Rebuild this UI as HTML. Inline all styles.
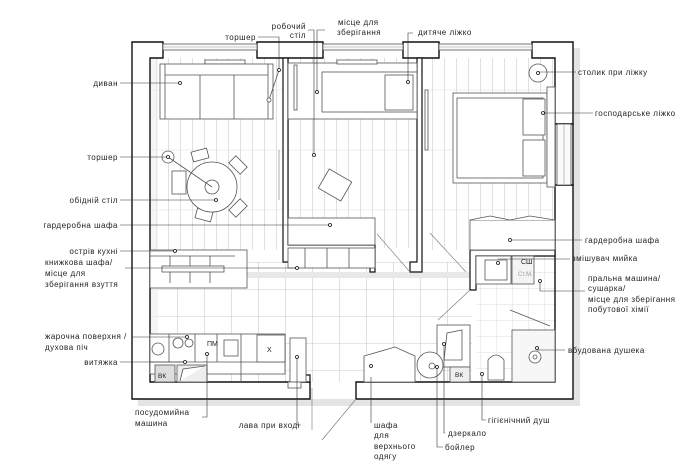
<!DOCTYPE html>
<html><head><meta charset="utf-8"><style>
html,body{margin:0;padding:0;background:#fff;}
svg{display:block;}
text{font-family:"Liberation Sans",sans-serif;font-size:8px;letter-spacing:0.5px;fill:#222;}
.e{text-anchor:end;}
</style></head><body>
<svg width="690" height="466" viewBox="0 0 690 466" xmlns="http://www.w3.org/2000/svg">
<defs>
<pattern id="planks" width="12" height="60" patternUnits="userSpaceOnUse">
<line x1="0.5" y1="0" x2="0.5" y2="60" stroke="#ccc" stroke-width="0.6"/>
<line x1="0" y1="30" x2="12" y2="30" stroke="#ddd" stroke-width="0.5"/>
</pattern>
<pattern id="tiles" width="27" height="27" patternUnits="userSpaceOnUse" x="150" y="262">
<path d="M0 0.5H27M0.5 0V27" stroke="#ccc" stroke-width="0.6" fill="none"/>
</pattern>
<pattern id="btiles" width="16" height="16" patternUnits="userSpaceOnUse">
<path d="M0 0.5H16M0.5 0V16" stroke="#ddd" stroke-width="0.5" fill="none"/>
</pattern>
</defs>
<rect x="138" y="48" width="442" height="358" fill="#e4e4e4"/>
<rect x="132" y="42" width="441" height="357" fill="#fff"/>
<rect x="150" y="58" width="133" height="192" fill="url(#planks)"/>
<rect x="288" y="58" width="129" height="190" fill="url(#planks)"/>
<rect x="422" y="58" width="133" height="192" fill="url(#planks)"/>
<rect x="150" y="262" width="322" height="120" fill="url(#tiles)"/>
<rect x="476" y="256" width="79" height="126" fill="url(#btiles)"/>
<rect x="150" y="58" width="8" height="324" fill="#eee" opacity="0.6"/>
<rect x="150" y="272" width="322" height="6" fill="#e8e8e8"/>
<g fill="#fff" stroke="#111" stroke-width="1.4">
<path d="M132 42H163V58H150V382H310V399H132Z"/>
<path d="M257 42H323V58H257Z"/>
<path d="M403 42H439V58H403Z"/>
<path d="M532 42H573V124H555V58H532Z"/>
<path d="M555 185H573V399H356V382H555Z"/>
<path d="M555 124H573V185H555Z" fill="#fff"/>
</g>
<g stroke="#555" stroke-width="0.8" fill="#fafafa">
<rect x="163" y="44" width="94" height="6"/>
<rect x="323" y="44" width="80" height="6"/>
<rect x="439" y="44" width="93" height="6"/>
<rect x="557" y="124" width="14" height="61"/>
</g>
<g stroke="#999" stroke-width="0.6">
<line x1="163" y1="47" x2="257" y2="47"/><line x1="323" y1="47" x2="403" y2="47"/><line x1="439" y1="47" x2="532" y2="47"/><line x1="564" y1="124" x2="564" y2="185"/>
</g>
<g fill="#fff" stroke="#111" stroke-width="1.2">
<path d="M283 58H288V245H375V272H370V262H283Z"/>
<path d="M417 58H422V272H410V262H417Z"/>
<path d="M470 250H555V256H476V290H470Z"/>
<path d="M303 375H310V382H303Z"/>
</g>
<g stroke="#777" stroke-width="0.6" fill="none">
<line x1="377" y1="234" x2="410" y2="272"/>
<line x1="430" y1="233" x2="466" y2="272"/>
<line x1="470" y1="290" x2="438" y2="320"/>
<line x1="356" y1="399" x2="322" y2="440"/>
<line x1="312" y1="388" x2="312" y2="430"/>
</g>
<g fill="#fff" stroke="#555" stroke-width="0.8">
<rect x="205" y="60" width="40" height="4"/>
<rect x="160" y="64" width="113" height="55"/>
<line x1="165" y1="75" x2="268" y2="75"/>
<line x1="200" y1="75" x2="200" y2="119"/><line x1="234" y1="75" x2="234" y2="119"/>
<line x1="165" y1="64" x2="165" y2="119"/><line x1="268" y1="64" x2="268" y2="119"/>
<rect x="172" y="171" width="14" height="23"/>
<rect x="192" y="150" width="16" height="10" transform="rotate(-15 200 155)"/>
<rect x="196" y="210" width="16" height="10" transform="rotate(15 204 215)"/>
<rect x="230" y="160" width="16" height="10" transform="rotate(45 238 165)"/>
<rect x="230" y="203" width="16" height="10" transform="rotate(-45 238 208)"/>
<circle cx="212" cy="187" r="25"/>
<circle cx="212" cy="187" r="7"/>
<circle cx="168" cy="157" r="6"/>
<line x1="168" y1="157" x2="212" y2="187"/>
<line x1="279" y1="70" x2="269" y2="100"/>
<circle cx="269" cy="100" r="2"/>
<line x1="279" y1="150" x2="279" y2="200" stroke="#999"/>
</g>
<g fill="#fff" stroke="#555" stroke-width="0.8">
<rect x="150" y="250" width="97" height="38"/>
<line x1="170" y1="256" x2="170" y2="283"/><line x1="190" y1="256" x2="190" y2="283"/><line x1="210" y1="256" x2="210" y2="283"/>
<line x1="150" y1="256" x2="235" y2="256"/>
<rect x="162" y="266" width="62" height="6"/>
</g>
<g fill="#fff" stroke="#555" stroke-width="0.8">
<rect x="288" y="63" width="129" height="56"/>
<rect x="322" y="72" width="95" height="40"/>
<rect x="385" y="75" width="28" height="35"/>
<rect x="337" y="60" width="40" height="4"/>
<rect x="294" y="65" width="3" height="45"/>
<rect x="322" y="174" width="26" height="22" transform="rotate(30 335 185)"/>
<rect x="288" y="218" width="87" height="27"/>
<rect x="288" y="248" width="87" height="20"/>
<line x1="305" y1="248" x2="305" y2="268"/><line x1="327" y1="248" x2="327" y2="268"/><line x1="349" y1="248" x2="349" y2="268"/>
</g>
<g fill="#fff" stroke="#555" stroke-width="0.8">
<circle cx="538" cy="73" r="9"/>
<rect x="453" y="93" width="94" height="90"/>
<rect x="457" y="98" width="86" height="80"/>
<rect x="523" y="99" width="22" height="36"/><rect x="523" y="140" width="22" height="36"/>
<rect x="547" y="87" width="8" height="100"/>
<rect x="470" y="220" width="85" height="30"/>
<path d="M470 220L490 216L510 220L530 216L555 220"/>
<rect x="425" y="90" width="3" height="60"/>
</g>
<g fill="#fff" stroke="#555" stroke-width="0.8">
<rect x="476" y="256" width="35" height="28"/>
<rect x="485" y="260" width="22" height="20"/>
<rect x="512" y="256" width="22" height="28" fill="#f4f4f4"/>
<rect x="512" y="330" width="43" height="52" fill="#f7f7f7"/>
<circle cx="535" cy="357" r="6"/><circle cx="535" cy="357" r="2"/>
<path d="M488 380V360Q496 350 504 360V380Z"/>
<line x1="510" y1="310" x2="550" y2="326"/>
<rect x="437" y="325" width="33" height="42"/>
<path d="M444 360L447 333L462 330V360Z"/>
<rect x="450" y="367" width="20" height="15" fill="#eee"/>
<circle cx="430" cy="365" r="13"/>
<circle cx="432" cy="366" r="3"/>
<path d="M364 382V356L395 347L415 356V382Z"/>
</g>
<g fill="#fff" stroke="#555" stroke-width="0.8">
<rect x="150" y="334" width="135" height="40"/>
<line x1="169" y1="334" x2="169" y2="362"/><line x1="195" y1="334" x2="195" y2="362"/>
<line x1="217" y1="334" x2="217" y2="362"/><line x1="241" y1="334" x2="241" y2="382"/>
<line x1="150" y1="362" x2="285" y2="362"/>
<circle cx="158" cy="349" r="6"/><circle cx="178" cy="343" r="5"/><circle cx="189" cy="343" r="4"/>
<rect x="224" y="340" width="14" height="16"/>
<rect x="257" y="335" width="28" height="27"/>
<rect x="290" y="338" width="16" height="44"/>
<rect x="155" y="365" width="20" height="17" fill="#ddd"/>
<rect x="177" y="365" width="30" height="17" fill="#eee"/>
<path d="M180 381L183 369L205 366"/>
<rect x="288" y="382" width="13" height="6"/>
</g>
<g>
<text x="207" y="346" style="font-size:7px;letter-spacing:0">ПМ</text>
<text x="267" y="352" style="font-size:7px;letter-spacing:0">Х</text>
<text x="158" y="378" style="font-size:6.5px;letter-spacing:0">ВК</text>
<text x="455" y="377" style="font-size:6.5px;letter-spacing:0">ВК</text>
<text x="521" y="264" style="font-size:7px;letter-spacing:0">СШ</text>
<text x="518" y="276" style="font-size:6px;fill:#999;letter-spacing:0">Ст.М.</text>
</g>
<g stroke="#333" stroke-width="0.6" fill="none">
<path d="M120 83H180"/><path d="M120 157H168"/><path d="M120 200H217"/><path d="M120 225H330"/>
<path d="M120 251H175"/><path d="M125 268H297"/><path d="M133 337H187"/><path d="M120 362H185"/>
<path d="M258 37H279V70"/><path d="M308 30H314V155"/><path d="M325 30H317V92"/>
<path d="M413 33H408V82"/><path d="M576 72H538"/><path d="M593 113H543"/>
<path d="M582 240H510"/><path d="M570 259H498"/><path d="M585 291H540V280"/><path d="M565 350H537"/>
<path d="M202 417H207V354"/><path d="M301 425H297V357"/><path d="M371 423H371V377"/>
<path d="M445 433H444V344"/><path d="M443 447H437V367"/><path d="M486 420H482V374"/>
</g>
<g fill="#fff" stroke="#111" stroke-width="0.8">
<circle cx="180" cy="83" r="1.5"/><circle cx="168" cy="157" r="1.5"/><circle cx="216" cy="200" r="1.5"/>
<circle cx="330" cy="225" r="1.5"/><circle cx="175" cy="251" r="1.5"/><circle cx="297" cy="268" r="1.5"/>
<circle cx="187" cy="337" r="1.5"/><circle cx="185" cy="362" r="1.5"/><circle cx="279" cy="70" r="1.5"/>
<circle cx="314" cy="155" r="1.5"/><circle cx="317" cy="92" r="1.5"/><circle cx="408" cy="82" r="1.5"/>
<circle cx="538" cy="73" r="1.5"/><circle cx="543" cy="113" r="1.5"/><circle cx="510" cy="240" r="1.5"/>
<circle cx="498" cy="263" r="1.5"/><circle cx="540" cy="281" r="1.5"/><circle cx="537" cy="348" r="1.5"/>
<circle cx="207" cy="354" r="1.5"/><circle cx="297" cy="357" r="1.5"/><circle cx="371" cy="366" r="1.5"/>
<circle cx="444" cy="344" r="1.5"/><circle cx="437" cy="367" r="1.5"/><circle cx="482" cy="374" r="1.5"/>
</g>
<text class="e" x="256" y="40">торшер</text>
<text class="e" x="306" y="29">робочий</text><text class="e" x="306" y="38">стіл</text>
<text x="338" y="25">місце для</text><text x="337" y="35">зберігання</text>
<text x="418" y="35">дитяче ліжко</text>
<text class="e" x="118" y="86">диван</text>
<text class="e" x="118" y="160">торшер</text>
<text class="e" x="118" y="203">обідній стіл</text>
<text class="e" x="118" y="228">гардеробна шафа</text>
<text class="e" x="118" y="254">острів кухні</text>
<text x="45" y="265">книжкова шафа/</text><text x="45" y="276">місце для</text><text x="45" y="287">зберігання взуття</text>
<text x="45" y="339">жарочна поверхня /</text><text x="45" y="350">духова піч</text>
<text class="e" x="118" y="365">витяжка</text>
<text x="135" y="415">посудомийна</text><text x="135" y="426">машина</text>
<text class="e" x="300" y="428">лава при вході</text>
<text x="374" y="428">шафа</text><text x="374" y="438">для</text><text x="374" y="449">верхнього</text><text x="374" y="459">одягу</text>
<text x="448" y="436">дзеркало</text>
<text x="445" y="450">бойлер</text>
<text x="488" y="423">гігієнічний душ</text>
<text x="578" y="75">столик при ліжку</text>
<text x="595" y="116">господарське ліжко</text>
<text x="585" y="243">гардеробна шафа</text>
<text x="572" y="261">змішувач мийка</text>
<text x="588" y="281">пральна машина/</text><text x="588" y="291">сушарка/</text><text x="588" y="302">місце для зберігання</text><text x="588" y="312">побутової хімії</text>
<text x="568" y="353">вбудована душека</text>
</svg>
</body></html>
